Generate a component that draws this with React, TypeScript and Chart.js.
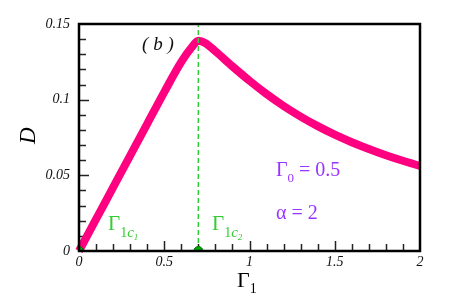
import React, { useEffect, useRef } from "react";
import { Chart, registerables } from "chart.js";

Chart.register(...registerables);

const gamma1 = [0, 0.1, 0.2, 0.3, 0.4, 0.5, 0.6, 0.66, 0.7, 0.74, 0.8, 0.9, 1.0, 1.1, 1.2, 1.3, 1.4, 1.5, 1.6, 1.7, 1.8, 1.9, 2.0];
const dValues = [0, 0.021, 0.042, 0.063, 0.084, 0.105, 0.125, 0.1345, 0.139, 0.1375, 0.132, 0.122, 0.1125, 0.1037, 0.0958, 0.0888, 0.0825, 0.0769, 0.0719, 0.0674, 0.0633, 0.0596, 0.0562];
const criticalX = [0, 0.7];
const criticalLine = 0.7;
const xTicks = [0, 0.5, 1, 1.5, 2];
const yTicks = [0, 0.05, 0.1, 0.15];

const SERIF = '"Liberation Serif", "Times New Roman", serif';
const PINK = "#ff0080";
const GREEN = "#33cc33";
const PURPLE = "#9933ff";

type Seg = { t: string; size: number; dy?: number; italic?: boolean };

function drawRich(ctx: CanvasRenderingContext2D, x: number, y: number, segs: Seg[], color: string) {
  ctx.save();
  ctx.fillStyle = color;
  ctx.textBaseline = "alphabetic";
  ctx.textAlign = "left";
  let cx = x;
  for (const s of segs) {
    ctx.font = `${s.italic ? "italic " : ""}${s.size}px ${SERIF}`;
    ctx.fillText(s.t, cx, y + (s.dy || 0));
    cx += ctx.measureText(s.t).width;
  }
  ctx.restore();
}

const decorPlugin = {
  id: "decor",
  beforeDatasetsDraw(chart: any) {
    const { ctx, chartArea: a, scales } = chart;
    const xs = scales.x;
    const ys = scales.y;
    ctx.save();
    ctx.strokeStyle = "#222";
    ctx.lineWidth = 1.5;
    for (let i = 1; i < 20; i++) {
      const v = i / 10;
      const px = Math.round(xs.getPixelForValue(v)) + 0.5;
      const len = i % 5 === 0 ? 10 : 7;
      ctx.beginPath();
      ctx.moveTo(px, a.bottom);
      ctx.lineTo(px, a.bottom - len);
      ctx.stroke();
    }
    for (let i = 1; i < 15; i++) {
      const v = i / 100;
      const py = Math.round(ys.getPixelForValue(v)) + 0.5;
      const len = i % 5 === 0 ? 10 : 7;
      ctx.beginPath();
      ctx.moveTo(a.left, py);
      ctx.lineTo(a.left + len, py);
      ctx.stroke();
    }
    ctx.restore();
  },
  afterDraw(chart: any) {
    const { ctx, chartArea: a, scales } = chart;
    const xs = scales.x;
    const ys = scales.y;
    ctx.save();
    ctx.strokeStyle = "#000";
    ctx.lineWidth = 2.5;
    ctx.strokeRect(a.left, a.top, a.right - a.left, a.bottom - a.top);
    ctx.restore();

    drawRich(ctx, xs.getPixelForValue(0.37), ys.getPixelForValue(0.1325), [{ t: "( b )", size: 19, italic: true }], "#111");

    drawRich(ctx, xs.getPixelForValue(0.17), ys.getPixelForValue(0.0138), [
      { t: "Γ", size: 21 },
      { t: "1", size: 14, dy: 7 },
      { t: "c", size: 15, dy: 7, italic: true },
      { t: "1", size: 9, dy: 10, italic: true },
    ], GREEN);
    drawRich(ctx, xs.getPixelForValue(0.78), ys.getPixelForValue(0.0138), [
      { t: "Γ", size: 21 },
      { t: "1", size: 14, dy: 7 },
      { t: "c", size: 15, dy: 7, italic: true },
      { t: "2", size: 9, dy: 10, italic: true },
    ], GREEN);

    drawRich(ctx, xs.getPixelForValue(1.155), ys.getPixelForValue(0.0497), [
      { t: "Γ", size: 20 },
      { t: "0", size: 13, dy: 6 },
      { t: " = 0.5", size: 20 },
    ], PURPLE);
    drawRich(ctx, xs.getPixelForValue(1.155), ys.getPixelForValue(0.0212), [
      { t: "α = 2", size: 20 },
    ], PURPLE);

    drawRich(ctx, 237, 287, [
      { t: "Γ", size: 22 },
      { t: "1", size: 14, dy: 6 },
    ], "#000");

    ctx.save();
    ctx.translate(35, 144);
    ctx.rotate(-Math.PI / 2);
    ctx.fillStyle = "#000";
    ctx.font = `italic 23px ${SERIF}`;
    ctx.textAlign = "left";
    ctx.textBaseline = "alphabetic";
    ctx.fillText("D", 0, 0);
    ctx.restore();
  },
};

export default function App() {
  const ref = useRef<HTMLCanvasElement>(null);
  useEffect(() => {
    if (!ref.current) return;
    const chart = new Chart(ref.current, {
      type: "line",
      data: {
        datasets: [
          {
            label: "critical",
            data: criticalX.map((x) => ({ x, y: 0 })),
            showLine: false,
            pointRadius: 4.5,
            pointBackgroundColor: "#00aa00",
            pointBorderColor: "#006600",
            pointBorderWidth: 1,
            clip: 0 as any,
          },
          {
            label: "dashed",
            data: [
              { x: criticalLine, y: 0 },
              { x: criticalLine, y: 0.15 },
            ],
            borderColor: GREEN,
            borderWidth: 1.5,
            borderDash: [5, 3],
            pointRadius: 0,
          },
          {
            label: "D",
            data: gamma1.map((x, i) => ({ x, y: dValues[i] })),
            borderColor: PINK,
            backgroundColor: PINK,
            borderWidth: 8,
            pointRadius: 0,
            cubicInterpolationMode: "monotone",
            clip: false as any,
          },
        ],
      },
      options: {
        responsive: false,
        animation: false,
        devicePixelRatio: 1,
        layout: { padding: { left: 0, right: 37, top: 24, bottom: 0 } },
        plugins: { legend: { display: false }, tooltip: { enabled: false } },
        scales: {
          x: {
            type: "linear",
            min: 0,
            max: 2,
            afterFit: (s: any) => {
              s.height = 45;
            },
            afterBuildTicks: (s: any) => {
              s.ticks = xTicks.map((v) => ({ value: v }));
            },
            ticks: {
              padding: 3,
              color: "#111",
              font: { family: SERIF, size: 14, style: "italic" },
              maxRotation: 0,
              callback: (v: any) => String(Number(Number(v).toFixed(2))),
            },
            grid: { display: true, drawOnChartArea: false, drawTicks: false },
            border: { display: false },
          },
          y: {
            type: "linear",
            min: 0,
            max: 0.15,
            afterFit: (s: any) => {
              s.width = 79;
            },
            afterBuildTicks: (s: any) => {
              s.ticks = yTicks.map((v) => ({ value: v }));
            },
            ticks: {
              padding: 9,
              color: "#111",
              font: { family: SERIF, size: 14, style: "italic" },
              callback: (v: any) => String(Number(Number(v).toFixed(2))),
            },
            grid: { display: true, drawOnChartArea: false, drawTicks: false },
            border: { display: false },
          },
        },
      },
      plugins: [decorPlugin],
    });
    return () => chart.destroy();
  }, []);
  return (
    <canvas
      ref={ref}
      width={457}
      height={296}
      style={{ position: "fixed", left: 0, top: 0, width: 457, height: 296, display: "block" }}
    />
  );
}
